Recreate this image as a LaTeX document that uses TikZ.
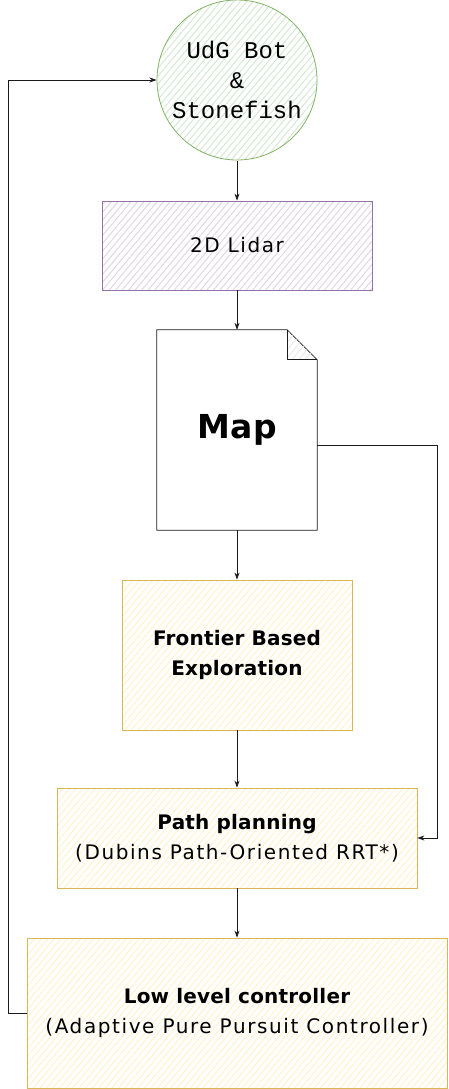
\documentclass[tikz,border=0pt]{standalone}
\usepackage{fontspec}
\setmainfont{DejaVu Sans}[LetterSpace=8,BoldFeatures={LetterSpace=1}]
\setmonofont{Liberation Mono}
\usetikzlibrary{arrows.meta,positioning,patterns.meta}
\definecolor{ink}{HTML}{1A1A1A}
\definecolor{botline}{HTML}{82B366}
\definecolor{botfill}{HTML}{D5E8D4}
\definecolor{lidline}{HTML}{9673A6}
\definecolor{lidfill}{HTML}{E1D5E7}
\definecolor{stepline}{HTML}{D6B656}
\definecolor{stepfill}{HTML}{FFF2CC}
\tikzset{
  hatch/.style={pattern={Lines[angle=50,distance=5pt,line width=1pt]},
                pattern color=#1},
  botcirc/.style={circle,draw=botline,line width=0.8pt,hatch=botfill,
                  minimum size=160pt,inner sep=0pt,align=center,
                  font=\ttfamily\fontsize{24}{30}\selectfont},
  lidbox/.style={draw=lidline,line width=0.8pt,hatch=lidfill,
                 minimum width=270pt,minimum height=89pt,align=center,
                 font=\fontsize{20}{30}\selectfont},
  mapdoc/.style={minimum width=160pt,minimum height=200pt,inner sep=0pt,
                 font=\bfseries\fontsize{33}{40}\selectfont},
  docline/.style={draw=ink,line width=0.8pt,line join=round},
  stepbox/.style={draw=stepline,line width=0.8pt,hatch=stepfill,
                  align=center,font=\fontsize{20}{29.5}\selectfont},
  arr/.style={-{Stealth[length=7pt,width=5pt]},line width=0.7pt,draw=ink}
}
\begin{document}
\begin{tikzpicture}[x=1pt,y=-1pt]
  \path[use as bounding box] (0,0) rectangle (449,1089);
  \node[botcirc] (bot) at (237,80) {UdG Bot\\\&\\Stonefish};
  \node[lidbox] (lidar) at (237,245.5) {2D Lidar};
  \node[mapdoc] (map) at (237,430) {};
  \draw[docline,fill=white] (map.south west) -- (map.north west)
    -- ([xshift=-30pt]map.north east) -- ([yshift=-30pt]map.north east)
    -- (map.south east) -- cycle;
  \draw[docline,hatch=black!8] ([xshift=-30pt]map.north east)
    -- ([xshift=-30pt,yshift=-30pt]map.north east)
    -- ([yshift=-30pt]map.north east);
  \node[mapdoc] at (map) {Map};
  \node[stepbox,minimum width=230pt,minimum height=150pt] (front) at (237,655)
    {\bfseries Frontier Based\\\bfseries Exploration};
  \node[stepbox,minimum width=360pt,minimum height=100pt] (path) at (237,838)
    {\bfseries Path planning\\(Dubins Path-Oriented RRT*)};
  \node[stepbox,minimum width=420pt,minimum height=150pt] (low) at (237,1013)
    {\bfseries Low level controller\\(Adaptive Pure Pursuit Controller)};
  % main chain
  \draw[arr] (bot.south) -- (lidar.north);
  \draw[arr] (lidar.south) -- (map.north);
  \draw[arr] (map.south) -- (front.north);
  \draw[arr] (front.south) -- (path.north);
  \draw[arr] (path.south) -- (low.north);
  % map feeds the planner
  \coordinate (mapturn) at (437,445);
  \draw[arr] (map.east |- mapturn) -- (mapturn) |- (path.east);
  % feedback to the robot
  \coordinate (loopx) at (8,80);
  \draw[arr] (low.west) -- (low.west -| loopx) |- (bot.west);
\end{tikzpicture}
\end{document}
